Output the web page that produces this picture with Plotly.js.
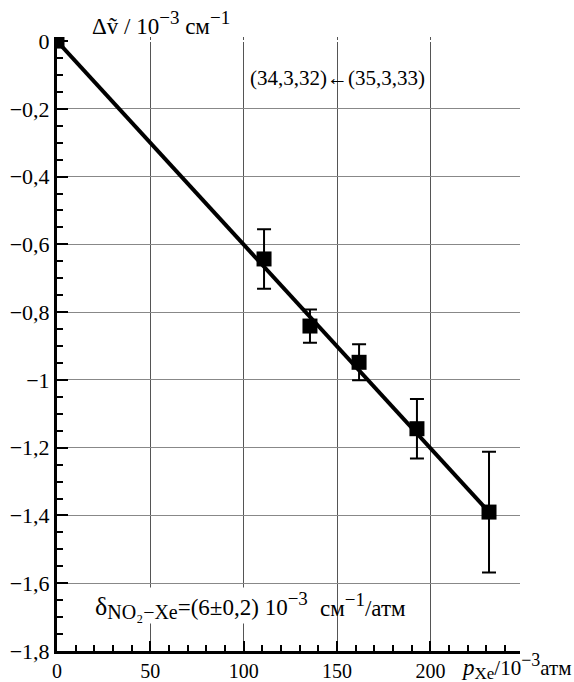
<!DOCTYPE html>
<html><head><meta charset="utf-8">
<script src="https://cdn.plot.ly/plotly-3.0.1.min.js"></script>
<style>html,body{margin:0;padding:0;background:#fff}</style>
</head><body><div id="chart" style="width:574px;height:682px"></div>
<script>
const pressure = [0, 110.9, 135.5, 161.8, 192.8, 231.4];
const shift = [0, -0.643, -0.841, -0.948, -1.144, -1.390];
const shiftErr = [0, 0.088, 0.049, 0.053, 0.088, 0.178];
const fitX = [0, 231.4];
const fitY = [0, -1.39];

const F = 'Liberation Serif';
const sz = (s, t) => '<span style="font-size:' + s + 'px">' + t + '</span>';
const traces = [
  {x: fitX, y: fitY, mode: 'lines', line: {color: '#000', width: 4}, showlegend: false},
  {x: pressure, y: shift, mode: 'markers', marker: {symbol: 'square', size: 15, color: '#000'},
   error_y: {type: 'data', array: shiftErr, visible: true, color: '#000', thickness: 2, width: 7},
   showlegend: false}
];
const layout = {
  width: 574, height: 682,
  margin: {l: 57, r: 54, t: 37, b: 31},
  paper_bgcolor: '#fff', plot_bgcolor: '#fff',
  separators: ', ',
  font: {family: F, size: 20, color: '#000'},
  xaxis: {range: [0, 248], showline: true, linecolor: '#000', linewidth: 3,
    tickvals: [0, 50, 100, 150, 200], ticks: 'inside', ticklen: 10, tickwidth: 2, tickcolor: '#000',
    minor: {dtick: 10, ticks: 'inside', ticklen: 6, tickwidth: 2, tickcolor: '#000', showgrid: false},
    showgrid: true, gridcolor: '#555', gridwidth: 1, zeroline: false,
    tickfont: {family: F, size: 20}},
  yaxis: {range: [-1.8, 0.012], showline: true, linecolor: '#000', linewidth: 3,
    dtick: 0.2, tick0: 0, ticks: 'inside', ticklen: 11, tickwidth: 2, tickcolor: '#000',
    minor: {dtick: 0.05, ticks: 'inside', ticklen: 6, tickwidth: 2, tickcolor: '#000', showgrid: false},
    showgrid: true, gridcolor: '#888', gridwidth: 1,
    zeroline: true, zerolinecolor: '#fff', zerolinewidth: 2,
    tickfont: {family: F, size: 22}},
  annotations: [
    {text: 'Δṽ / 10<sup>' + sz(19, '−3') + '</sup> см<sup>' + sz(19, '−1') + '</sup>', xref: 'paper', yref: 'paper', x: 33/463, y: 1, xanchor: 'left', yanchor: 'bottom',
     showarrow: false, font: {family: F, size: 23}, yshift: -4},
    {text: '(34,3,32)←(35,3,33)', xref: 'x', yref: 'y', x: 150, y: -0.11, xanchor: 'center', yanchor: 'middle',
     showarrow: false, font: {family: F, size: 21}},
    {text: sz(26, 'δ') + '<sub>' + sz(20, 'NO₂−Xe') + '</sub>=(6±0,2) 10<sup>' + sz(19, '−3') + '</sup>', xref: 'x', yref: 'y', x: 20, y: -1.665, xanchor: 'left', yanchor: 'middle',
     showarrow: false, bgcolor: '#fff', borderpad: 0, font: {family: F, size: 23}},
    {text: 'см<sup>' + sz(19, '−1') + '</sup>/атм', xref: 'x', yref: 'y', x: 140, y: -1.665, xanchor: 'left', yanchor: 'middle',
     showarrow: false, font: {family: F, size: 23}},
    {text: sz(23, '<i>p</i>') + '<sub>' + sz(17, 'Xe') + '</sub>/10<sup>' + sz(18, '−3') + '</sup>атм', xref: 'paper', yref: 'paper', x: 1.117, y: 0, xanchor: 'right', yanchor: 'top',
     showarrow: false, font: {family: F, size: 21}, yshift: 3}
  ]
};
Plotly.newPlot('chart', traces, layout, {displayModeBar: false, staticPlot: true});
</script></body></html>
